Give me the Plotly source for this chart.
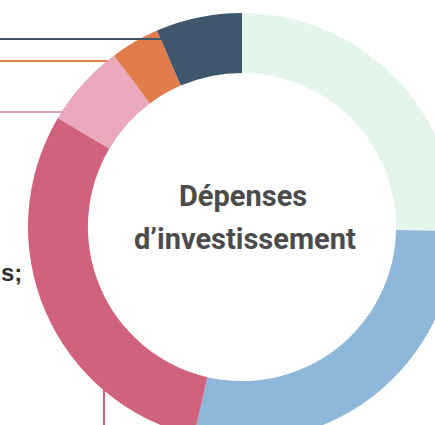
import plotly.graph_objects as go

# Data (shares read from the ring, clockwise from 12 o'clock)
categories = ["Catégorie A", "Catégorie B", "Catégorie C", "Catégorie D", "Catégorie E", "Catégorie F"]
values = [25.3, 28.3, 29.9, 6.3, 3.7, 6.5]
colors = ["#e4f5ec", "#8fb7d9", "#d0627c", "#eaa8bd", "#e07d4a", "#40566d"]

# Geometry in pixels
CX, CY, R = 242, 227, 214
L, T = CX - R, CY - R
W, H = CX + R, CY + R


def px(x):
    return (x - L) / (2 * R)


def py(y):
    return 1 - (y - T) / (2 * R)


fig = go.Figure(go.Pie(
    labels=categories,
    values=values,
    marker=dict(colors=colors, line=dict(width=0)),
    hole=0.72,
    sort=False,
    direction="clockwise",
    rotation=0,
    textinfo="none",
    hoverinfo="label+percent",
    showlegend=False,
))

shapes = [
    dict(type="line", x0=px(0), x1=px(163), y0=py(39), y1=py(39),
         line=dict(color="#40566d", width=2), layer="above"),
    dict(type="line", x0=px(0), x1=px(125), y0=py(61), y1=py(61),
         line=dict(color="#e07d4a", width=2), layer="below"),
    dict(type="line", x0=px(0), x1=px(80), y0=py(112), y1=py(112),
         line=dict(color="#d9a3b3", width=2), layer="below"),
    dict(type="line", x0=px(104), x1=px(104), y0=py(370), y1=py(440),
         line=dict(color="#d0627c", width=2), layer="below"),
]

title_font = dict(family="Roboto", size=29, color="#4b4b4b", weight="bold")

annotations = [
    dict(text="Dépenses", x=px(243), y=py(196), xref="paper", yref="paper",
         showarrow=False, xanchor="center", yanchor="middle", font=title_font),
    dict(text="d’investissement", x=px(245), y=py(239), xref="paper", yref="paper",
         showarrow=False, xanchor="center", yanchor="middle", font=title_font),
    dict(text="s;", x=px(-1), y=py(272), xref="paper", yref="paper",
         showarrow=False, xanchor="left", yanchor="middle",
         font=dict(family="Liberation Sans, Arial", size=24, color="#2f2f2f", weight="bold")),
]

fig.update_layout(
    width=W, height=H,
    margin=dict(l=L, t=T, r=0, b=0, pad=0),
    paper_bgcolor="white",
    plot_bgcolor="white",
    shapes=shapes,
    annotations=annotations,
)

fig.write_html(
    "out.html",
    config={"displayModeBar": False},
    post_script="document.body.style.margin='0';document.body.style.overflow='hidden';document.documentElement.style.overflow='hidden';",
)
